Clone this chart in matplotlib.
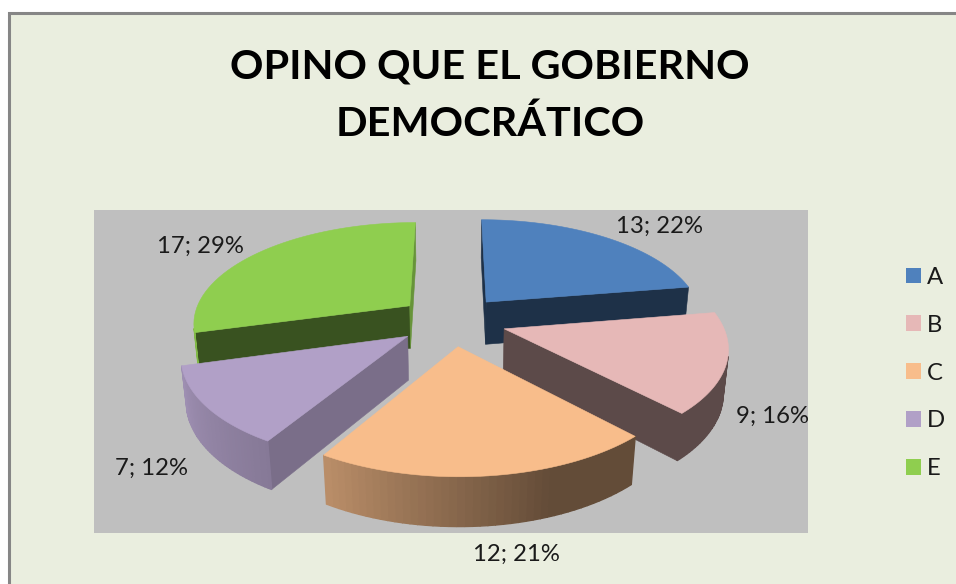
import numpy as np
import matplotlib
matplotlib.use("Agg")
import matplotlib.pyplot as plt
from matplotlib.patches import Polygon, Rectangle, Patch

# ---- data ----
categories = ["A", "B", "C", "D", "E"]
values = [13, 9, 12, 7, 17]
percents = [22, 16, 21, 12, 29]
title_lines = ["OPINO QUE EL GOBIERNO", "DEMOCRÁTICO"]

# ---- style ----
colors = ["#4F81BD", "#E6B8B7", "#F8BD8B", "#B1A0C7", "#8FCE4F"]
start_face_shade = [0.38, 0.40, 0.40, 0.69, 0.40]
end_face_shade = [0.38, 0.40, 0.40, 0.69, 0.72]
label_xy = [(660, 226), (773, 416), (516, 554), (152, 468), (200, 246)]
FONT = "Lato"
W, H = 956, 584

# camera / pie geometry (pie radius = 1)
CX, CY, F, DIST = 452.0, 320.7, 1232.0, 5.67
SIN_EL = 0.463
COS_EL = np.sqrt(1 - SIN_EL ** 2)
EXPLODE, THICK = 0.25, 0.228


def project(x, y, z):
    yc = y * SIN_EL + z * COS_EL
    zc = DIST + y * COS_EL - z * SIN_EL
    return CX + F * x / zc, CY - F * yc / zc


def wall_shade(theta):
    return np.interp(theta, [0, 160, 212, 256, 360], [0.40, 0.40, 0.76, 0.90, 1.0])


def tint(color, k):
    return tuple(np.array(matplotlib.colors.to_rgb(color)) * k)


fig = plt.figure(figsize=(W / 100, H / 100), dpi=100, facecolor="white")
ax = fig.add_axes([0, 0, 1, 1])
ax.set_xlim(0, W)
ax.set_ylim(H, 0)
ax.axis("off")

ax.add_patch(Rectangle((9, 13), W + 20, H + 20, facecolor="#EAEEDF", edgecolor="#868686", lw=2.2))
ax.add_patch(Rectangle((94, 210), 714, 323, facecolor="#BFBFBF", edgecolor="none"))

total = sum(values)
fractions = np.array(values) / total
edges = np.concatenate([[0], np.cumsum(fractions)]) * 360.0
mids = (edges[:-1] + edges[1:]) / 2
order = np.argsort(-np.cos(np.radians(mids)))

for i in order:
    mid = np.radians(mids[i])
    ox, oy = EXPLODE * np.sin(mid), EXPLODE * np.cos(mid)
    thetas = np.linspace(edges[i], edges[i + 1], 45)
    t = np.radians(thetas)
    xs = np.concatenate([[ox], ox + np.sin(t)])
    ys = np.concatenate([[oy], oy + np.cos(t)])
    top = np.array([project(a, b, 0) for a, b in zip(xs, ys)])
    bot = np.array([project(a, b, -THICK) for a, b in zip(xs, ys)])
    n = len(xs)
    for j in range(n):
        k = (j + 1) % n
        quad = np.array([top[j], top[k], bot[k], bot[j]])
        px, py = quad[:, 0], quad[:, 1]
        area = np.sum(px * np.roll(py, -1) - np.roll(px, -1) * py)
        if area >= 0:
            continue
        if j == 0:
            shade = start_face_shade[i]
        elif j == n - 1:
            shade = end_face_shade[i]
        else:
            shade = wall_shade((thetas[j - 1] + thetas[j]) / 2)
        c = tint(colors[i], shade)
        lw = 0.4 if j in (0, n - 1) else 1.0
        ax.add_patch(Polygon(quad, closed=True, facecolor=c, edgecolor=c, lw=lw))
    ax.add_patch(Polygon(top, closed=True, facecolor=colors[i], edgecolor=colors[i], lw=0.4))

for (x, y), v, p in zip(label_xy, values, percents):
    ax.text(x, y, f"{v}; {p}%", ha="center", va="center", fontsize=17.2, family=FONT, color="#1a1a1a")

ax.text(490, 67, title_lines[0], ha="center", va="center", fontsize=29.8, fontweight="bold", family=FONT, color="black")
ax.text(490, 124, title_lines[1], ha="center", va="center", fontsize=29.8, fontweight="bold", family=FONT, color="black")

handles = [Patch(facecolor=c, edgecolor="none", label=n) for c, n in zip(colors, categories)]
ax.legend(handles=handles, loc="center left", bbox_to_anchor=(906 / W, 1 - 373 / H), frameon=False,
          prop={"family": FONT, "size": 17.2}, handlelength=0.63, handleheight=0.63,
          handletextpad=0.25, labelspacing=1.125, borderpad=0, labelcolor="#1a1a1a", borderaxespad=0)

fig.savefig("out.png", dpi=100, facecolor="white")
